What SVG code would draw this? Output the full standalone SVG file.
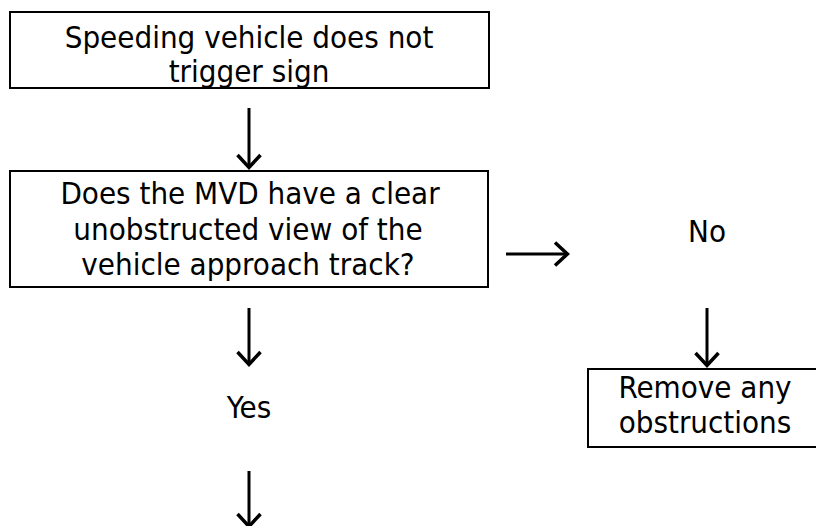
<svg xmlns="http://www.w3.org/2000/svg" width="816" height="526" viewBox="0 0 816 526">
<style>
.box{fill:#fff;stroke:#000;stroke-width:2}
.t{font-family:'DejaVu Sans Condensed','DejaVu Sans',sans-serif;font-stretch:condensed;font-size:31px;fill:#000;text-anchor:middle}
.c{stroke:#000;stroke-width:3;fill:none}
</style>
<defs>
<marker id="ah" markerUnits="userSpaceOnUse" markerWidth="30" markerHeight="30" viewBox="-20 -15 30 30" refX="0" refY="0" orient="auto" overflow="visible">
<path d="M-12,-11.5 L0.4,0 L-12,11.5" fill="none" stroke="#000" stroke-width="3.5" stroke-linejoin="miter" stroke-miterlimit="10"/>
</marker>
</defs>
<rect width="816" height="526" fill="#fff"/>
<g id="n1">
<rect class="box" x="10" y="12" width="479" height="76"/>
<text class="t" x="249" y="48">Speeding vehicle does not</text>
<text class="t" x="249" y="82">trigger sign</text>
</g>
<g id="n2">
<rect class="box" x="10" y="171" width="478" height="116"/>
<text class="t" x="250" y="204">Does the MVD have a clear</text>
<text class="t" x="248" y="240">unobstructed view of the</text>
<text class="t" x="248" y="275">vehicle approach track?</text>
</g>
<g id="n3">
<text class="t" x="707" y="242">No</text>
</g>
<g id="n4">
<rect class="box" x="588" y="369" width="240" height="78"/>
<text class="t" x="705" y="398">Remove any</text>
<text class="t" x="705" y="433">obstructions</text>
</g>
<g id="n5">
<text class="t" x="249" y="418">Yes</text>
</g>
<g id="connectors">
<line class="c" x1="249" y1="108" x2="249" y2="167" marker-end="url(#ah)"/>
<line class="c" x1="506" y1="254" x2="567" y2="254" marker-end="url(#ah)"/>
<line class="c" x1="249" y1="308" x2="249" y2="364" marker-end="url(#ah)"/>
<line class="c" x1="707" y1="308" x2="707" y2="365" marker-end="url(#ah)"/>
<line class="c" x1="249" y1="471" x2="249" y2="526" marker-end="url(#ah)"/>
</g>
</svg>
